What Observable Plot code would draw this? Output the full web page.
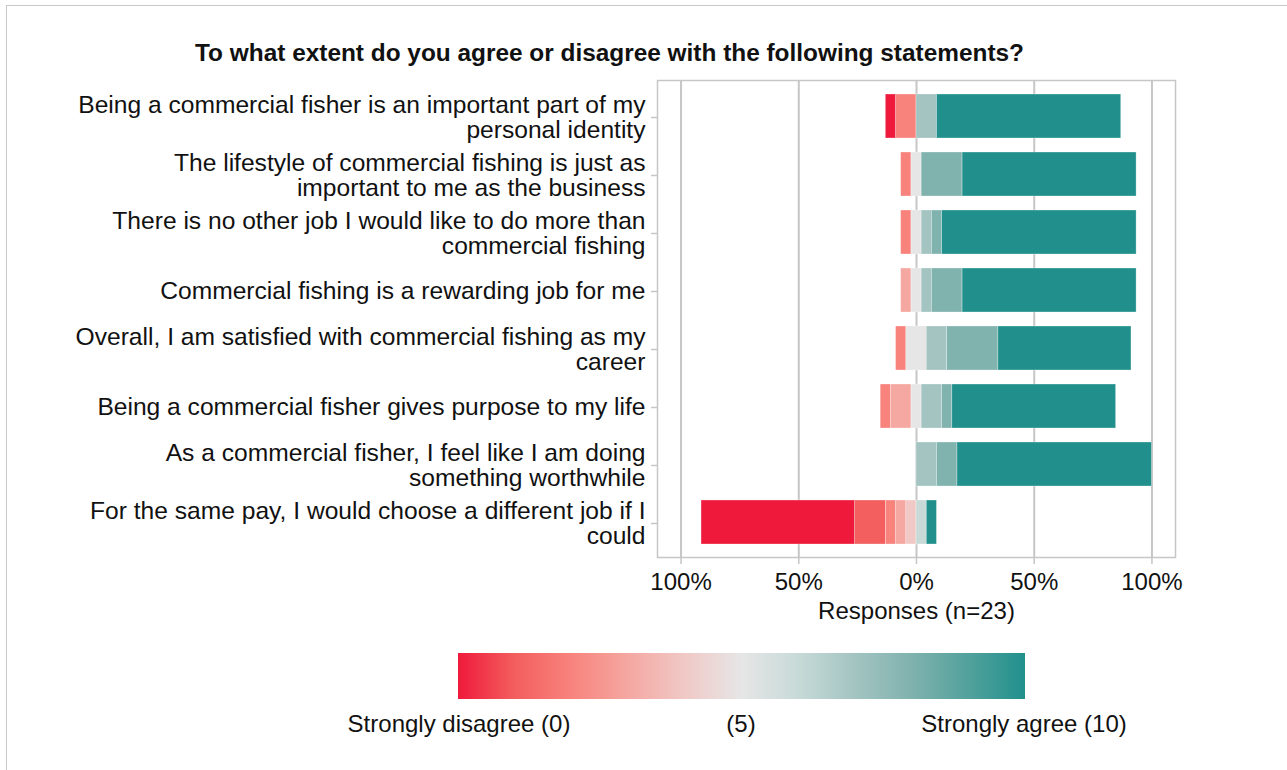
<!DOCTYPE html>
<html>
<head>
<meta charset="utf-8">
<script src="https://cdn.jsdelivr.net/npm/d3@7"></script>
<script src="https://cdn.jsdelivr.net/npm/@observablehq/plot@0.6"></script>
<style>
  html, body { margin: 0; padding: 0; background: #fff; }
  body { width: 1287px; height: 770px; overflow: hidden; position: relative; font-family: "Liberation Sans", Arial, sans-serif; color: #111; }
  #frame { position: absolute; left: 6px; top: 5px; width: 1400px; height: 900px; border-top: 1.5px solid #c8c8c8; border-left: 1.5px solid #c8c8c8; }
  #title { position: absolute; left: 0; top: 39px; width: 1219px; text-align: center; font-weight: bold; font-size: 24.4px; line-height: 28px; }
  #chart { position: absolute; left: 0; top: 0; }
  #legendbar { position: absolute; left: 458px; top: 653px; width: 567px; height: 46px; }
  .lab { position: absolute; top: 710px; font-size: 24px; line-height: 28px; white-space: nowrap; transform: translateX(-50%); }
</style>
</head>
<body>
<div id="frame"></div>
<div id="title">To what extent do you agree or disagree with the following statements?</div>
<div id="chart"></div>
<div id="legendbar"></div>
<div id="legendlabels"></div>
<script>
// ---- Data ----
const statements = [
  "Being a commercial fisher is an important part of my\npersonal identity",
  "The lifestyle of commercial fishing is just as\nimportant to me as the business",
  "There is no other job I would like to do more than\ncommercial fishing",
  "Commercial fishing is a rewarding job for me",
  "Overall, I am satisfied with commercial fishing as my\ncareer",
  "Being a commercial fisher gives purpose to my life",
  "As a commercial fisher, I feel like I am doing\nsomething worthwhile",
  "For the same pay, I would choose a different job if I\ncould"
];
// response counts for levels 0..10 (n = 23)
const identity    = [1, 0, 2, 0, 0, 0, 0, 2, 0, 0, 18];
const lifestyle   = [0, 0, 1, 0, 0, 1, 0, 0, 4, 0, 17];
const noOtherJob  = [0, 0, 1, 0, 0, 1, 0, 1, 1, 0, 19];
const rewarding   = [0, 0, 0, 1, 0, 1, 0, 1, 3, 0, 17];
const satisfied   = [0, 0, 1, 0, 0, 2, 0, 2, 5, 0, 13];
const purpose     = [0, 0, 1, 2, 0, 1, 0, 2, 1, 0, 16];
const worthwhile  = [0, 0, 0, 0, 0, 0, 0, 2, 2, 0, 19];
const differentJob= [15, 3, 1, 1, 1, 0, 1, 0, 0, 0, 1];
const countsList = [identity, lifestyle, noOtherJob, rewarding, satisfied, purpose, worthwhile, differentJob];

const levels = [0, 1, 2, 3, 4, 5, 6, 7, 8, 9, 10];
const levelColors = ["#EF1A3B", "#F35E5E", "#F8837D", "#F5A7A1", "#F0C9C6", "#E6E6E6",
                     "#C7DAD8", "#A3C4C1", "#80B2AE", "#52A19C", "#21908C"];
const xTicks = [-1, -0.5, 0, 0.5, 1];
const xLabel = "Responses (n=23)";
const legendLabels = ["Strongly disagree (0)", "(5)", "Strongly agree (10)"];

// ---- Build diverging segments ----
const segs = [];
statements.forEach((s, i) => {
  const c = countsList[i];
  const n = d3.sum(c);
  const half = c[5] / 2 / n;
  if (c[5] > 0) segs.push({statement: s, level: 5, x1: -half, x2: half});
  let pos = -half;
  for (let k = 4; k >= 0; k--) {
    if (c[k] > 0) { segs.push({statement: s, level: k, x1: pos - c[k] / n, x2: pos}); }
    pos -= c[k] / n;
  }
  pos = half;
  for (let k = 6; k <= 10; k++) {
    if (c[k] > 0) { segs.push({statement: s, level: k, x1: pos, x2: pos + c[k] / n}); }
    pos += c[k] / n;
  }
});

const plot = Plot.plot({
  width: 1287,
  height: 640,
  marginLeft: 657,
  marginRight: 112,
  marginTop: 80,
  marginBottom: 83,
  style: {fontFamily: "Liberation Sans, Arial, sans-serif", fontSize: "24px", color: "#111", background: "transparent", overflow: "visible"},
  x: {domain: [-1.1, 1.1]},
  y: {domain: statements, paddingInner: 0.25, paddingOuter: 0.225},
  color: {type: "ordinal", domain: levels, range: levelColors},
  marks: [
    Plot.ruleX(xTicks, {stroke: "#c6c6c6", strokeWidth: 2}),
    Plot.barX(segs, {y: "statement", x1: "x1", x2: "x2", fill: "level", stroke: "white", strokeWidth: 0.6, strokeOpacity: 0.5}),
    Plot.frame({stroke: "#c6c6c6", strokeWidth: 1.5}),
    Plot.axisY({tickSize: 6, tickPadding: 6, stroke: "#c6c6c6", strokeWidth: 1.5, fill: "#111", fontSize: 24.6, lineHeight: 1, dy: 1, label: null}),
    Plot.axisX({ticks: xTicks, tickFormat: d => Math.round(Math.abs(d) * 100) + "%", tickSize: 7, tickPadding: 8, stroke: "#c6c6c6", strokeWidth: 1.5, fill: "#111", fontSize: 24, label: null}),
    Plot.text([xLabel], {text: d => d, frameAnchor: "bottom", dy: 54, lineAnchor: "middle", fontSize: 24, fill: "#111"})
  ]
});
document.getElementById("chart").appendChild(plot);

// ---- Legend ----
const bar = document.getElementById("legendbar");
bar.style.background = "linear-gradient(to right, " + levelColors.map((c, i) => c + " " + (i * 10) + "%").join(", ") + ")";
const labX = [459, 741, 1024];
const ll = document.getElementById("legendlabels");
legendLabels.forEach((t, i) => {
  const d = document.createElement("div");
  d.className = "lab";
  d.style.left = labX[i] + "px";
  d.textContent = t;
  ll.appendChild(d);
});
</script>
</body>
</html>
